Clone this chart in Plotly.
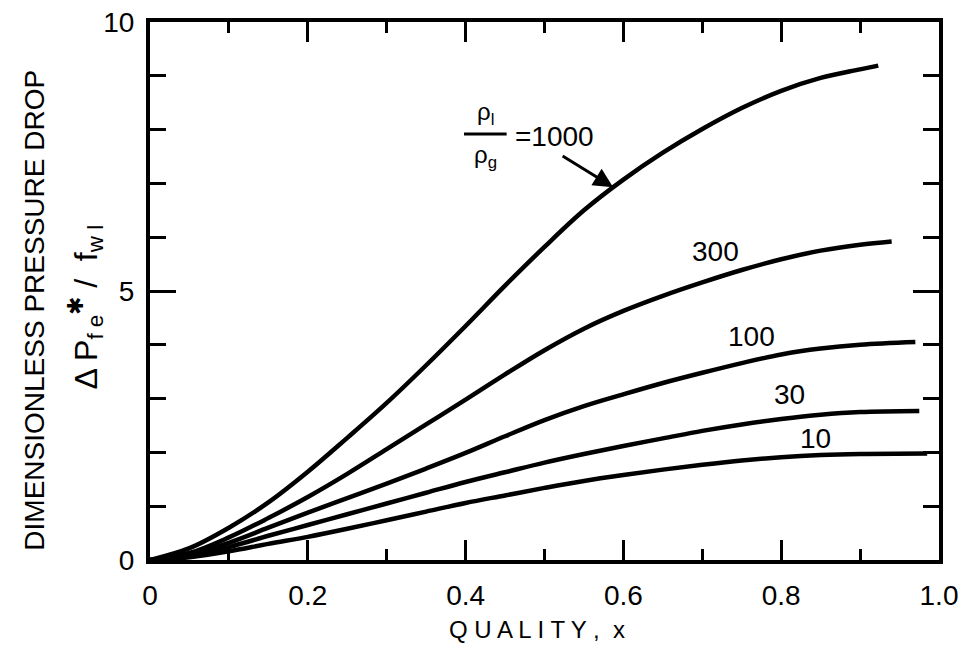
import plotly.graph_objects as go

# ---- data ----
x_1000 = [0, 0.05, 0.1, 0.15, 0.2, 0.25, 0.3, 0.35, 0.4, 0.45, 0.5, 0.55, 0.6, 0.65, 0.7, 0.75, 0.8, 0.85, 0.9, 0.923]
y_1000 = [0, 0.22, 0.6, 1.07, 1.64, 2.27, 2.92, 3.62, 4.35, 5.1, 5.82, 6.5, 7.07, 7.57, 8.01, 8.4, 8.72, 8.96, 9.12, 9.19]

x_300 = [0, 0.05, 0.1, 0.15, 0.2, 0.25, 0.3, 0.35, 0.4, 0.45, 0.5, 0.55, 0.6, 0.65, 0.7, 0.75, 0.8, 0.85, 0.9, 0.94]
y_300 = [0, 0.13, 0.42, 0.78, 1.17, 1.6, 2.06, 2.52, 2.98, 3.45, 3.9, 4.3, 4.63, 4.91, 5.16, 5.39, 5.59, 5.75, 5.86, 5.92]

x_100 = [0, 0.05, 0.1, 0.15, 0.2, 0.25, 0.3, 0.35, 0.4, 0.45, 0.5, 0.55, 0.6, 0.65, 0.7, 0.75, 0.8, 0.85, 0.9, 0.97]
y_100 = [0, 0.1, 0.32, 0.6, 0.88, 1.15, 1.42, 1.7, 1.99, 2.3, 2.6, 2.86, 3.08, 3.29, 3.48, 3.66, 3.82, 3.93, 4.0, 4.05]

x_30 = [0, 0.05, 0.1, 0.15, 0.2, 0.25, 0.3, 0.35, 0.4, 0.45, 0.5, 0.55, 0.6, 0.65, 0.7, 0.75, 0.8, 0.85, 0.9, 0.975]
y_30 = [0, 0.08, 0.24, 0.45, 0.65, 0.85, 1.05, 1.25, 1.45, 1.63, 1.81, 1.97, 2.12, 2.26, 2.4, 2.52, 2.62, 2.7, 2.75, 2.77]

x_10 = [0, 0.05, 0.1, 0.15, 0.2, 0.25, 0.3, 0.35, 0.4, 0.45, 0.5, 0.55, 0.6, 0.65, 0.7, 0.75, 0.8, 0.85, 0.9, 0.985]
y_10 = [0, 0.05, 0.16, 0.3, 0.43, 0.58, 0.74, 0.9, 1.06, 1.2, 1.34, 1.47, 1.58, 1.68, 1.77, 1.85, 1.91, 1.95, 1.97, 1.98]

x_tickvals = [0, 0.2, 0.4, 0.6, 0.8, 1.0]
x_ticktext = ["0", "0.2", "0.4", "0.6", "0.8", "1.0"]
y_tickvals = [0, 5, 10]
y_ticktext = ["0", "5", "10"]

curve_labels = ["300", "100", "30", "10"]
label_x = [0.717, 0.762, 0.81, 0.844]
label_y = [5.74, 4.16, 3.07, 2.25]

FONT = "Liberation Sans"
BLACK = "#000000"

fig = go.Figure()
for xs, ys in [(x_1000, y_1000), (x_300, y_300), (x_100, y_100), (x_30, y_30), (x_10, y_10)]:
    fig.add_trace(go.Scatter(x=xs, y=ys, mode="lines",
                             line=dict(color=BLACK, width=4.5, shape="spline", smoothing=1.0),
                             showlegend=False, hoverinfo="skip"))

axis_common = dict(
    showgrid=False, zeroline=False, showline=True, linecolor=BLACK, linewidth=4,
    mirror="ticks", ticks="inside", tickcolor=BLACK, tickwidth=3, automargin=False,
    tickfont=dict(family=FONT, size=28, color=BLACK),
)

fig.update_xaxes(range=[0, 1], tickvals=x_tickvals, ticktext=x_ticktext, ticklen=20,
                 minor=dict(dtick=0.1, ticks="inside", ticklen=11, tickwidth=3, tickcolor=BLACK, showgrid=False),
                 ticklabelstandoff=7, **axis_common)
fig.update_yaxes(range=[0, 10], tickvals=y_tickvals, ticktext=y_ticktext, ticklen=26,
                 minor=dict(dtick=1, ticks="inside", ticklen=16, tickwidth=3, tickcolor=BLACK, showgrid=False),
                 ticklabelstandoff=6, **axis_common)

annotations = []
for t, lx, ly in zip(curve_labels, label_x, label_y):
    annotations.append(dict(x=lx, y=ly, xref="x", yref="y", text=t, showarrow=False,
                            font=dict(family=FONT, size=28, color=BLACK)))

# rho_l / rho_g = 1000 label
annotations.append(dict(x=0.425, y=8.3, xref="x", yref="y", text="ρ<sub>l</sub>", showarrow=False,
                        font=dict(family=FONT, size=24, color=BLACK)))
annotations.append(dict(x=0.425, y=7.5, xref="x", yref="y", text="ρ<sub>g</sub>", showarrow=False,
                        font=dict(family=FONT, size=24, color=BLACK)))
annotations.append(dict(x=0.513, y=7.88, xref="x", yref="y", text="=1000", showarrow=False,
                        font=dict(family=FONT, size=28, color=BLACK)))
annotations.append(dict(x=0.587, y=6.93, xref="x", yref="y", text="", showarrow=True,
                        ax=-52, ay=-32, arrowhead=2, arrowsize=1.3, arrowwidth=3, arrowcolor=BLACK, standoff=0))

# axis titles
annotations.append(dict(x=0.49, y=-0.13, xref="paper", yref="paper", text="Q U A L I T Y ,  x",
                        showarrow=False, xanchor="center", yanchor="middle",
                        font=dict(family=FONT, size=24, color=BLACK)))
annotations.append(dict(x=-0.146, y=0.465, xref="paper", yref="paper", text="DIMENSIONLESS PRESSURE DROP",
                        textangle=-90, showarrow=False, xanchor="center", yanchor="middle",
                        font=dict(family=FONT, size=28, color=BLACK)))
annotations.append(dict(x=-0.082, y=0.47, xref="paper", yref="paper",
                        text="Δ P<sub>f e</sub><sup>✱</sup> /  f<sub>w l</sub>",
                        textangle=-90, showarrow=False, xanchor="center", yanchor="middle",
                        font=dict(family=FONT, size=32, color=BLACK)))

fig.update_layout(
    width=963, height=651,
    margin=dict(l=150, r=24, t=22, b=91, autoexpand=False),
    plot_bgcolor="white", paper_bgcolor="white",
    annotations=annotations,
    shapes=[dict(type="line", xref="x", yref="y", x0=0.398, x1=0.452, y0=7.92, y1=7.92,
                 line=dict(color=BLACK, width=3))],
)

fig.write_html("out.html", config={"displayModeBar": False},
               post_script="document.body.style.margin='0';")
